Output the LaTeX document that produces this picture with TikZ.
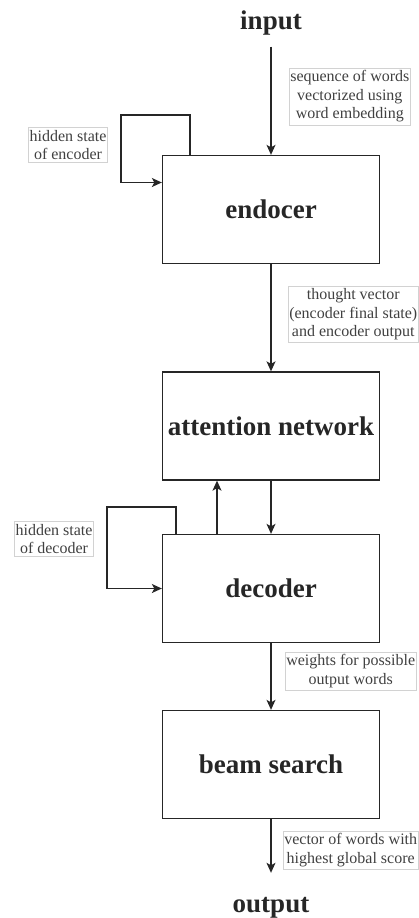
\documentclass[tikz,border=0pt]{standalone}
\usepackage{fontspec}
\setmainfont{Liberation Serif}
\usepackage{tikz}
\usetikzlibrary{arrows.meta,positioning}

\begin{document}
\begin{tikzpicture}[->,>={Stealth[length=10pt,width=9pt,inset=2.5pt]},x=1pt,y=-1pt,
  line width=1.3pt,color=black!85,node distance=216.5pt]
\tikzstyle{block}=[draw, minimum width=217pt, minimum height=108pt, font=\fontsize{27}{32}\selectfont\bfseries]
\tikzstyle{io}=[inner sep=0pt, anchor=base, font=\fontsize{27}{32}\selectfont\bfseries]
\tikzstyle{lbl}=[draw=gray!35, line width=0.6pt, text=black!75, align=center, inner xsep=1pt, inner ysep=2.5pt, font=\fontsize{16}{18.5}\selectfont]
\useasboundingbox (0,0) rectangle (418,918);
\node[io, outer sep=12pt] (input) at (271,29) {input};
\node[block] (enc) at (271,209.5) {endocer};
\node[block, below of=enc] (att) {attention network};
\node[block, below of=att, node distance=162.5pt] (dec) {decoder};
\node[block, below of=dec, node distance=176pt] (beam) {beam search};
\node[io, outer sep=24pt] (output) at (271,912) {output};
% loop labels
\node[lbl] (hse) at (68,145) {hidden state\\of encoder};
\node[lbl] (hsd) at (54,539) {hidden state\\of decoder};
% main flow
\draw (input) -- node[lbl, right=18pt, pos=0.46] {sequence of words\\vectorized using\\word embedding} (enc);
\draw (enc) -- node[lbl, right=17pt, pos=0.47] {thought vector\\(encoder final state)\\and encoder output} (att);
\draw (att) -- (dec);
\draw ([xshift=-54pt]dec.north) -- ([xshift=-54pt]att.south);
\draw (dec) -- node[lbl, right=14pt, pos=0.42] {weights for possible\\output words} (beam);
\draw (beam) -- node[lbl, right=12pt, pos=0.58] {vector of words with\\highest global score} (output);
% hidden state loops
\draw ([xshift=-81pt]enc.north) -- ++(0,40pt) -| ([xshift=-41pt,yshift=27pt]enc.west) -- ([yshift=27pt]enc.west);
\draw ([xshift=-95pt]dec.north) -- ++(0,27pt) -| ([xshift=-55pt]dec.west) -- (dec.west);
\end{tikzpicture}
\end{document}
